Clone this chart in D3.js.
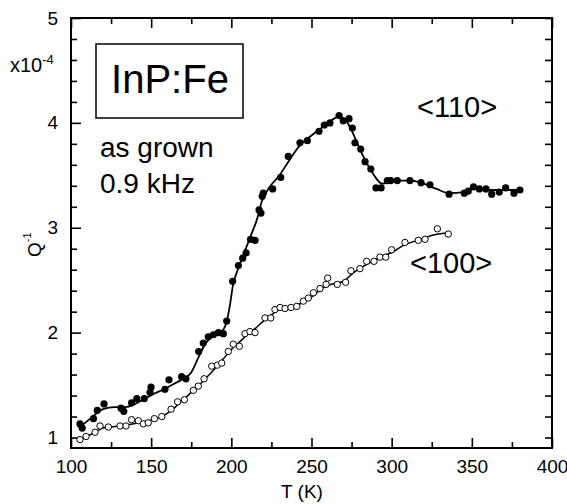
<!DOCTYPE html>
<html>
<head>
<meta charset="utf-8">
<script src="https://cdn.jsdelivr.net/npm/d3@7"></script>
<style>
  body { margin: 0; background: #fff; }
  text { font-family: "Liberation Sans", Arial, sans-serif; fill: #000; }
</style>
</head>
<body>
<div id="chart"></div>
<script>
// Data: temperature (K) and internal friction (x10^-4)
var filledT = [105.6, 107, 114, 116.4, 120.6, 131.2, 132.9, 137.8, 141, 145.7, 149.3, 149.9, 158.6, 161.1, 169, 171.7,
  179.6, 182.5, 185.6, 188.8, 191.9, 195, 197.1, 200.8, 204.4, 207.1, 209.2, 212, 214.8, 217.3, 218.5, 219.3, 219.9,
  225.8, 230.8, 235.5, 242.8, 247.4, 254.7, 258, 261.5, 267.2, 269.8, 273.4, 275.5, 277.1, 280.7, 283.4, 287, 290.2,
  293.4, 297.3, 299.4, 303.5, 311.4, 318.3, 323.9, 335.8, 345.3, 347.8, 351, 354.7, 358.8, 362.4, 367.1, 371.1, 376.3, 380];
var filledQ = [1.13, 1.09, 1.18, 1.26, 1.32, 1.28, 1.25, 1.33, 1.37, 1.37, 1.43, 1.48, 1.46, 1.55, 1.58, 1.56,
  1.82, 1.90, 1.96, 1.98, 2.00, 1.99, 2.11, 2.49, 2.64, 2.71, 2.76, 2.89, 2.88, 3.17, 3.14, 3.30, 3.33,
  3.37, 3.48, 3.68, 3.81, 3.83, 3.92, 3.98, 4.00, 4.07, 4.02, 4.04, 3.95, 3.81, 3.75, 3.63, 3.56, 3.38,
  3.38, 3.45, 3.45, 3.45, 3.45, 3.43, 3.41, 3.32, 3.33, 3.35, 3.39, 3.37, 3.37, 3.32, 3.34, 3.38, 3.33, 3.36];

var openT = [105.6, 109.4, 115, 118.1, 123.3, 130.6, 134.3, 137.8, 142, 145.1, 148.2, 152, 156.6, 162.4, 166.5, 170.7,
  176.3, 179.4, 183, 187.8, 191.3, 194, 198.1, 201.2, 205, 208.5, 211.6, 214.8, 221, 224.6, 227.2, 230.4, 233.5,
  237.2, 240.8, 244.9, 248, 251.2, 255.3, 259.1, 260.1, 266.1, 271.3, 274.6, 280.2, 284.4, 289, 292.7, 296.3, 300,
  308.3, 316.6, 320.8, 328.5, 335.3];
var openQ = [0.98, 1.01, 1.05, 1.11, 1.10, 1.11, 1.11, 1.17, 1.16, 1.13, 1.14, 1.18, 1.20, 1.27, 1.34, 1.36,
  1.45, 1.49, 1.56, 1.68, 1.69, 1.71, 1.82, 1.89, 1.87, 1.99, 2.01, 2.00, 2.14, 2.14, 2.22, 2.24, 2.23,
  2.24, 2.25, 2.30, 2.33, 2.38, 2.42, 2.46, 2.52, 2.46, 2.48, 2.59, 2.61, 2.68, 2.68, 2.72, 2.72, 2.79,
  2.86, 2.88, 2.89, 2.99, 2.94];

// Smooth guide lines drawn through the points
var filledFitT = [105, 112, 120, 127, 134, 140, 146, 152, 158, 164, 170, 175, 180, 184, 188, 192, 195, 197, 199, 201,
  204, 208, 212, 216, 219, 224, 230, 236, 243, 250, 256, 262, 267, 271, 274, 279, 284, 289, 294, 299, 305, 312,
  320, 328, 336, 345, 353, 361, 370, 380];
var filledFitQ = [1.09, 1.18, 1.27, 1.29, 1.29, 1.32, 1.37, 1.42, 1.46, 1.51, 1.56, 1.62, 1.78, 1.90, 1.96, 2.00, 2.03,
  2.10, 2.25, 2.45, 2.60, 2.76, 2.92, 3.08, 3.25, 3.39, 3.50, 3.64, 3.79, 3.88, 3.95, 4.02, 4.06, 4.03, 3.96, 3.79,
  3.63, 3.50, 3.42, 3.44, 3.45, 3.45, 3.42, 3.37, 3.33, 3.34, 3.38, 3.36, 3.36, 3.36];

var openFitT = [105, 110, 115, 120, 125, 135, 145, 155, 160, 165, 170, 175, 180, 185, 190, 195, 200, 205, 210, 215,
  220, 225, 230, 235, 240, 245, 250, 255, 260, 265, 270, 276, 282, 288, 294, 301, 307, 314, 320, 326, 334];
var openFitQ = [0.97, 1.01, 1.05, 1.09, 1.10, 1.12, 1.15, 1.19, 1.23, 1.29, 1.36, 1.43, 1.50, 1.58, 1.66, 1.75, 1.84,
  1.91, 1.98, 2.04, 2.11, 2.17, 2.22, 2.24, 2.26, 2.29, 2.34, 2.40, 2.45, 2.47, 2.49, 2.57, 2.63, 2.68, 2.73, 2.77,
  2.83, 2.87, 2.90, 2.93, 2.95];

// Tick values
var xMajor = [100, 150, 200, 250, 300, 350, 400];
var xMinor = [125, 175, 225, 275, 325, 375];
var yMajor = [1, 2, 3, 4, 5];
var yMinor = [1.2, 1.4, 1.6, 1.8, 2.2, 2.4, 2.6, 2.8, 3.2, 3.4, 3.6, 3.8, 4.2, 4.4, 4.6, 4.8];

// SVG area and margins
var svgWidth = 567;
var svgHeight = 504;
var margin = { top: 18, right: 15, bottom: 56, left: 71 };
var chartWidth = svgWidth - margin.left - margin.right;
var chartHeight = svgHeight - margin.top - margin.bottom;

var svg = d3.select("#chart")
  .append("svg")
  .attr("width", svgWidth)
  .attr("height", svgHeight);

var chartGroup = svg.append("g")
  .attr("transform", `translate(${margin.left}, ${margin.top})`);

var scaleX = d3.scaleLinear().domain([100, 400]).range([0, chartWidth]);
var scaleY = d3.scaleLinear().domain([0.9, 5]).range([chartHeight, 0]);

// Axes with inward ticks on all four sides
function styleAxis(g) {
  g.select(".domain").remove();
  g.selectAll("line").attr("stroke", "#000").attr("stroke-width", 1.6);
  g.selectAll("text").attr("font-size", 19).attr("fill", "#000")
    .style("font-family", "'Liberation Sans', Arial, sans-serif");
}

chartGroup.append("g")
  .attr("transform", `translate(0, ${chartHeight})`)
  .call(d3.axisBottom(scaleX).tickValues(xMajor).tickSize(-10).tickPadding(12).tickFormat(d3.format("d")))
  .call(styleAxis);
chartGroup.append("g")
  .attr("transform", `translate(0, ${chartHeight})`)
  .call(d3.axisBottom(scaleX).tickValues(xMinor).tickSize(-6).tickFormat(""))
  .call(styleAxis);
chartGroup.append("g")
  .call(d3.axisTop(scaleX).tickValues(xMajor).tickSize(-10).tickFormat(""))
  .call(styleAxis);
chartGroup.append("g")
  .call(d3.axisTop(scaleX).tickValues(xMinor).tickSize(-6).tickFormat(""))
  .call(styleAxis);

chartGroup.append("g")
  .call(d3.axisLeft(scaleY).tickValues(yMajor).tickSize(-10).tickPadding(13).tickFormat(d3.format("d")))
  .call(styleAxis);
chartGroup.append("g")
  .call(d3.axisLeft(scaleY).tickValues(yMinor).tickSize(-6).tickFormat(""))
  .call(styleAxis);
chartGroup.append("g")
  .attr("transform", `translate(${chartWidth}, 0)`)
  .call(d3.axisRight(scaleY).tickValues(yMajor.concat(yMinor)).tickSize(-7).tickFormat(""))
  .call(styleAxis);

// Plot frame
chartGroup.append("rect")
  .attr("x", 0)
  .attr("y", 0)
  .attr("width", chartWidth)
  .attr("height", chartHeight)
  .attr("fill", "none")
  .attr("stroke", "#000")
  .attr("stroke-width", 2);

// Fit curves
var line = d3.line()
  .x(d => scaleX(d[0]))
  .y(d => scaleY(d[1]))
  .curve(d3.curveMonotoneX);

chartGroup.append("path")
  .datum(d3.zip(filledFitT, filledFitQ))
  .attr("d", line)
  .attr("fill", "none")
  .attr("stroke", "#000")
  .attr("stroke-width", 1.8);

chartGroup.append("path")
  .datum(d3.zip(openFitT, openFitQ))
  .attr("d", line)
  .attr("fill", "none")
  .attr("stroke", "#000")
  .attr("stroke-width", 1.5);

// Data points
chartGroup.selectAll(".filled")
  .data(d3.zip(filledT, filledQ))
  .enter()
  .append("circle")
  .classed("filled", true)
  .attr("cx", d => scaleX(d[0]))
  .attr("cy", d => scaleY(d[1]))
  .attr("r", 3.6)
  .attr("fill", "#000");

chartGroup.selectAll(".open")
  .data(d3.zip(openT, openQ))
  .enter()
  .append("circle")
  .classed("open", true)
  .attr("cx", d => scaleX(d[0]))
  .attr("cy", d => scaleY(d[1]))
  .attr("r", 3.2)
  .attr("fill", "#fff")
  .attr("stroke", "#000")
  .attr("stroke-width", 1);

// Annotations
svg.append("rect")
  .attr("x", 96)
  .attr("y", 44)
  .attr("width", 147)
  .attr("height", 74)
  .attr("fill", "#fff")
  .attr("stroke", "#000")
  .attr("stroke-width", 1.5);

svg.append("text")
  .attr("x", 170)
  .attr("y", 93)
  .attr("text-anchor", "middle")
  .attr("font-size", 40)
  .text("InP:Fe");

svg.append("text")
  .attr("x", 100)
  .attr("y", 157)
  .attr("font-size", 28)
  .text("as grown");

svg.append("text")
  .attr("x", 100)
  .attr("y", 193)
  .attr("font-size", 28)
  .text("0.9 kHz");

svg.append("text")
  .attr("x", 417)
  .attr("y", 117)
  .attr("font-size", 29)
  .text("<110>");

svg.append("text")
  .attr("x", 410)
  .attr("y", 273)
  .attr("font-size", 29)
  .text("<100>");

// Axis titles
svg.append("text")
  .attr("x", 302)
  .attr("y", 498)
  .attr("text-anchor", "middle")
  .attr("font-size", 19)
  .text("T (K)");

var yTitle = svg.append("text")
  .attr("transform", "translate(41, 257) rotate(-90)")
  .attr("font-size", 19);
yTitle.append("tspan").text("Q");
yTitle.append("tspan").attr("dy", -10).attr("font-size", 11).text("-1");

var scaleLabel = svg.append("text")
  .attr("x", 10)
  .attr("y", 72)
  .attr("font-size", 20);
scaleLabel.append("tspan").text("x10");
scaleLabel.append("tspan").attr("dy", -8).attr("font-size", 13).text("-4");
</script>
</body>
</html>
